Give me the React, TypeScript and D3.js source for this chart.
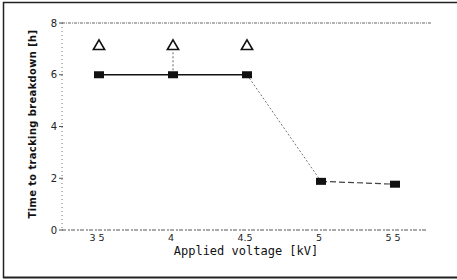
import React from "react";
import * as d3 from "d3";

const voltages = [3.5, 4, 4.5, 5, 5.5];
const hours = [6, 6, 6, 1.88, 1.77];
const openVoltages = [3.5, 4, 4.5];
const openHours = [7.1, 7.1, 7.1];
const xTicks = [3.5, 4, 4.5, 5, 5.5];
const xTickLabels = ["3 5", "4", "4.5", "5", "5 5"];
const yTicks = [0, 2, 4, 6, 8];

export default function App() {
  const W = 457, H = 280;
  const x = d3.scaleLinear().domain([3.25, 5.75]).range([62, 432]);
  const y = d3.scaleLinear().domain([0, 8]).range([230, 23]);
  const pts = voltages.map((v, i) => [x(v), y(hours[i])] as [number, number]);
  const line = d3.line();
  const tri = d3.symbol().type(d3.symbolTriangle).size(55);
  return (
    <svg width={W} height={H} style={{ position: "absolute", left: 0, top: 0 }}>
      <rect x={0} y={0} width={W} height={H} fill="#fff" />
      {/* outer frame */}
      <path d={`M3.5,278 L3.5,2.5 L460,2.5`} fill="none" stroke="#222" strokeWidth={1.5} />
      <line x1={3} x2={457} y1={277.5} y2={277.5} stroke="#222" strokeWidth={2} />
      {/* axes */}
      <line x1={62} x2={62} y1={23} y2={230} stroke="#777" strokeWidth={1} strokeDasharray="1 3" />
      <line x1={62} x2={432} y1={23} y2={23} stroke="#666" strokeWidth={1} strokeDasharray="3 1 1 1" />
      <line x1={62} x2={426} y1={230} y2={230} stroke="#555" strokeWidth={1} strokeDasharray="4 2 2 1" />
      {yTicks.map((t) => (
        <g key={t}>
          <line x1={59} x2={63} y1={y(t)} y2={y(t)} stroke="#555" />
          <text x={57} y={y(t) + 3.5} fontSize={10} fontFamily="DejaVu Sans" textAnchor="end" fill="#222">{t}</text>
        </g>
      ))}
      {xTicks.map((t, i) => (
        <text key={t} x={x(t) - 2} y={241} fontSize={9.5} fontFamily="DejaVu Sans" textAnchor="middle" fill="#222">{xTickLabels[i]}</text>
      ))}
      <text x={246} y={255} fontSize={12} fontFamily="DejaVu Sans Mono" textAnchor="middle" fill="#111">Applied voltage [kV]</text>
      <text transform={`translate(36,124) rotate(-90)`} fontSize={11} fontWeight="bold" fontFamily="Liberation Sans Narrow, DejaVu Sans Condensed, sans-serif" textAnchor="middle" fill="#111" letterSpacing={0.4}>Time to tracking breakdown [h]</text>
      {/* lines */}
      <path d={line(pts.slice(0, 3)) || ""} fill="none" stroke="#111" strokeWidth={1.3} />
      <path d={line(pts.slice(2, 4)) || ""} fill="none" stroke="#777" strokeWidth={1} strokeDasharray="2 2" />
      <path d={line(pts.slice(3, 5)) || ""} fill="none" stroke="#444" strokeWidth={1.2} strokeDasharray="6 3" />
      <line x1={x(4)} x2={x(4)} y1={y(7.1) + 6} y2={y(6) - 3} stroke="#666" strokeDasharray="2 2" />
      {pts.map(([px, py], i) => (
        <rect key={i} x={px - 5} y={py - 3.5} width={10} height={7} fill="#111" />
      ))}
      {openVoltages.map((v, i) => (
        <path key={i} d={tri() || ""} transform={`translate(${x(v)},${y(openHours[i])})`} fill="#fff" stroke="#111" strokeWidth={1.6} />
      ))}
    </svg>
  );
}
